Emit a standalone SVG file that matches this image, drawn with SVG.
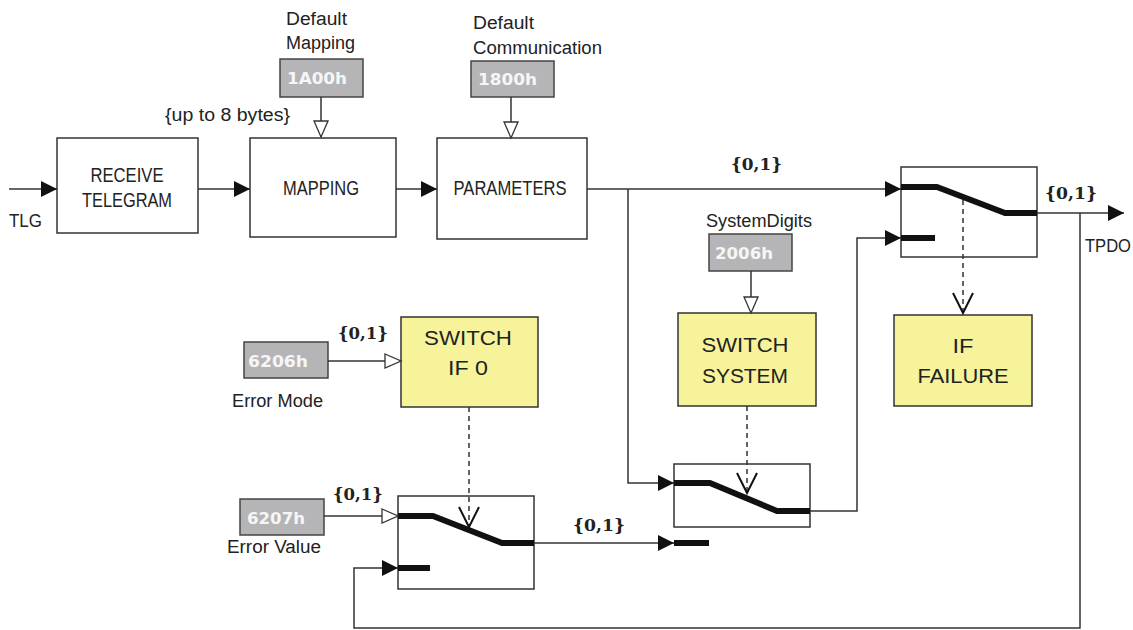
<svg xmlns="http://www.w3.org/2000/svg" width="1133" height="630" viewBox="0 0 1133 630">
  <defs>
    <marker id="arrowFilled" markerUnits="userSpaceOnUse" markerWidth="18" markerHeight="18" refX="16" refY="8" orient="auto" overflow="visible">
      <path d="M0,0 L16,8 L0,16 Z" fill="#111" stroke="none"/>
    </marker>
    <marker id="arrowHollow" markerUnits="userSpaceOnUse" markerWidth="18" markerHeight="18" refX="16" refY="8" orient="auto" overflow="visible">
      <path d="M0,1 L16,8 L0,15 Z" fill="#fff" stroke="#333" stroke-width="1.3"/>
    </marker>
    <marker id="arrowOpen" markerUnits="userSpaceOnUse" markerWidth="24" markerHeight="24" refX="20" refY="10" orient="auto" overflow="visible">
      <path d="M0,0 L20,10 L0,20" fill="none" stroke="#111" stroke-width="2"/>
    </marker>
  </defs>
  <style>
    .box { fill: #fff; stroke: #333; stroke-width: 1.5; }
    .obj { fill: #b5b5b7; stroke: #444; stroke-width: 1.5; }
    .cond { fill: #f6f39b; stroke: #333; stroke-width: 1.5; }
    .wire { fill: none; stroke: #333; stroke-width: 1.5; }
    .dash { fill: none; stroke: #333; stroke-width: 1.5; stroke-dasharray: 5 4; }
    .blade { fill: none; stroke: #111; stroke-width: 6; stroke-linejoin: round; }
    .lbl { font-family: "Liberation Sans", Arial, sans-serif; font-size: 20px; fill: #222; text-anchor: middle; }
    .small { font-family: "Liberation Sans", Arial, sans-serif; font-size: 18px; fill: #222; }
    .idx { font-family: "DejaVu Sans", "Liberation Sans", sans-serif; font-weight: bold; font-size: 16px; fill: #f6f6f6; }
    .set { font-family: "DejaVu Serif", "Liberation Serif", serif; font-weight: bold; font-size: 17px; fill: #222; }
  </style>

  <rect x="0" y="0" width="1133" height="630" fill="#fff"/>

  <g id="tlg">
    <text class="small" x="9" y="227" textLength="33" lengthAdjust="spacingAndGlyphs">TLG</text>
  </g>

  <g id="receive-telegram">
    <rect class="box" x="57" y="138" width="141" height="95"/>
    <text class="lbl" x="127" y="182" textLength="73" lengthAdjust="spacingAndGlyphs">RECEIVE</text>
    <text class="lbl" x="127" y="207" textLength="90" lengthAdjust="spacingAndGlyphs">TELEGRAM</text>
  </g>
  <text class="small" x="165" y="121" textLength="125" lengthAdjust="spacingAndGlyphs">{up to 8 bytes}</text>

  <g id="mapping">
    <rect class="box" x="250" y="138" width="146" height="99"/>
    <text class="lbl" x="321" y="195" textLength="76" lengthAdjust="spacingAndGlyphs">MAPPING</text>
  </g>

  <g id="default-mapping">
    <text class="small" x="286" y="25" textLength="61" lengthAdjust="spacingAndGlyphs">Default</text>
    <text class="small" x="286" y="49" textLength="69" lengthAdjust="spacingAndGlyphs">Mapping</text>
    <rect class="obj" x="280" y="59" width="83" height="38"/>
    <text class="idx" x="287" y="84" textLength="60" lengthAdjust="spacingAndGlyphs">1A00h</text>
  </g>

  <g id="parameters">
    <rect class="box" x="437" y="138" width="150" height="101"/>
    <text class="lbl" x="510" y="195" textLength="113" lengthAdjust="spacingAndGlyphs">PARAMETERS</text>
  </g>

  <g id="default-communication">
    <text class="small" x="473" y="29" textLength="61" lengthAdjust="spacingAndGlyphs">Default</text>
    <text class="small" x="473" y="54" textLength="129" lengthAdjust="spacingAndGlyphs">Communication</text>
    <rect class="obj" x="471" y="61" width="83" height="36"/>
    <text class="idx" x="478" y="85" textLength="59" lengthAdjust="spacingAndGlyphs">1800h</text>
  </g>

  <text class="set" x="731" y="170" textLength="51" lengthAdjust="spacingAndGlyphs">{0,1}</text>

  <g id="output-switch">
    <rect class="box" x="901" y="167" width="136" height="90"/>
    <path class="blade" d="M901,187 H937 L1005,213 H1037"/>
    <path class="blade" d="M901,238 H935"/>
  </g>
  <text class="set" x="1045" y="199" textLength="52" lengthAdjust="spacingAndGlyphs">{0,1}</text>
  <text class="small" x="1085" y="252" textLength="46" lengthAdjust="spacingAndGlyphs">TPDO</text>

  <g id="if-failure">
    <rect class="cond" x="894" y="315" width="138" height="91"/>
    <text class="lbl" x="963" y="353" textLength="21" lengthAdjust="spacingAndGlyphs">IF</text>
    <text class="lbl" x="963" y="383" textLength="91" lengthAdjust="spacingAndGlyphs">FAILURE</text>
  </g>

  <g id="system-digits">
    <text class="small" x="706" y="227" textLength="106" lengthAdjust="spacingAndGlyphs">SystemDigits</text>
    <rect class="obj" x="709" y="234" width="83" height="37"/>
    <text class="idx" x="715" y="259" textLength="58" lengthAdjust="spacingAndGlyphs">2006h</text>
  </g>

  <g id="switch-system">
    <rect class="cond" x="678" y="313" width="138" height="93"/>
    <text class="lbl" x="745" y="352" textLength="87" lengthAdjust="spacingAndGlyphs">SWITCH</text>
    <text class="lbl" x="745" y="383" textLength="86" lengthAdjust="spacingAndGlyphs">SYSTEM</text>
  </g>

  <g id="system-switch">
    <rect class="box" x="674" y="464" width="136" height="63"/>
    <path class="blade" d="M674,483 H710 L777,511 H810"/>
    <path class="blade" d="M674,543 H709"/>
  </g>
  <text class="set" x="573" y="531" textLength="52" lengthAdjust="spacingAndGlyphs">{0,1}</text>

  <g id="error-mode">
    <rect class="obj" x="244" y="342" width="84" height="36"/>
    <text class="idx" x="248" y="367" textLength="60" lengthAdjust="spacingAndGlyphs">6206h</text>
    <text class="small" x="232" y="407" textLength="91" lengthAdjust="spacingAndGlyphs">Error Mode</text>
  </g>
  <text class="set" x="338" y="339" textLength="50" lengthAdjust="spacingAndGlyphs">{0,1}</text>

  <g id="switch-if-0">
    <rect class="cond" x="401" y="317" width="137" height="90"/>
    <text class="lbl" x="468" y="345" textLength="88" lengthAdjust="spacingAndGlyphs">SWITCH</text>
    <text class="lbl" x="468" y="375" textLength="40" lengthAdjust="spacingAndGlyphs">IF 0</text>
  </g>

  <g id="error-value">
    <rect class="obj" x="240" y="499" width="84" height="36"/>
    <text class="idx" x="247" y="524" textLength="58" lengthAdjust="spacingAndGlyphs">6207h</text>
    <text class="small" x="227" y="553" textLength="94" lengthAdjust="spacingAndGlyphs">Error Value</text>
  </g>
  <text class="set" x="333" y="500" textLength="50" lengthAdjust="spacingAndGlyphs">{0,1}</text>

  <g id="error-switch">
    <rect class="box" x="398" y="496" width="136" height="93"/>
    <path class="blade" d="M398,516 H433 L502,543 H534"/>
    <path class="blade" d="M398,568 H430"/>
  </g>

  <!-- signal wiring, drawn on top so control lines show inside the switch frames -->
  <g id="connectors">
    <path class="wire" d="M9,189 H57" marker-end="url(#arrowFilled)"/>
    <path class="wire" d="M198,189 H250" marker-end="url(#arrowFilled)"/>
    <path class="wire" d="M396,189 H437" marker-end="url(#arrowFilled)"/>
    <path class="wire" d="M587,189 H901" marker-end="url(#arrowFilled)"/>
    <path class="wire" d="M628,189 V483 H674" marker-end="url(#arrowFilled)"/>
    <path class="wire" d="M810,511 H857 V238 H901" marker-end="url(#arrowFilled)"/>
    <path class="wire" d="M534,543 H674" marker-end="url(#arrowFilled)"/>
    <path class="wire" d="M1037,213 H1124" marker-end="url(#arrowFilled)"/>
    <path class="wire" d="M1080,213 V628 H354 V568 H398" marker-end="url(#arrowFilled)"/>

    <path class="wire" d="M321,97 V137" marker-end="url(#arrowHollow)"/>
    <path class="wire" d="M511,97 V138" marker-end="url(#arrowHollow)"/>
    <path class="wire" d="M751,271 V313" marker-end="url(#arrowHollow)"/>
    <path class="wire" d="M328,361 H401" marker-end="url(#arrowHollow)"/>
    <path class="wire" d="M324,516 H398" marker-end="url(#arrowHollow)"/>

    <path class="dash" d="M469,407 V527" marker-end="url(#arrowOpen)"/>
    <path class="dash" d="M747,406 V493" marker-end="url(#arrowOpen)"/>
    <path class="dash" d="M963,200 V313" marker-end="url(#arrowOpen)"/>
  </g>
</svg>
